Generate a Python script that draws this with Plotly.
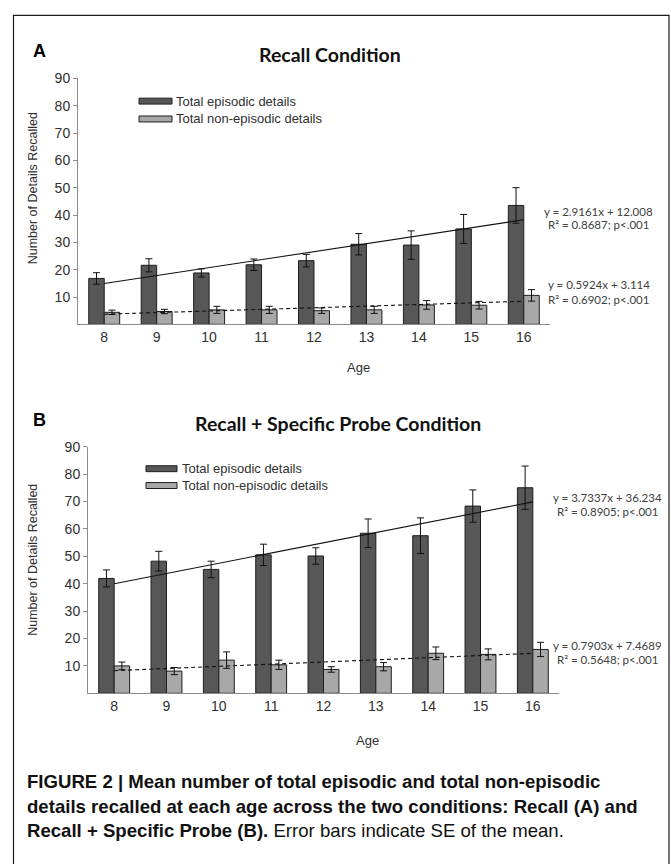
import plotly.graph_objects as go

W, H = 671, 864

ages = ["8", "9", "10", "11", "12", "13", "14", "15", "16"]

# Panel A: Recall Condition
a_epi = [16.8, 21.6, 18.8, 21.8, 23.3, 29.3, 29.0, 34.9, 43.5]
a_epi_se = [2.1, 2.4, 1.5, 2.1, 2.3, 3.9, 5.2, 5.3, 6.5]
a_non = [4.4, 4.7, 5.3, 5.3, 5.0, 5.3, 7.1, 7.0, 10.6]
a_non_se = [0.8, 0.8, 1.3, 1.3, 1.0, 1.3, 1.6, 1.4, 2.1]

# Panel B: Recall + Specific Probe Condition
b_epi = [41.9, 48.2, 45.2, 50.5, 50.1, 58.4, 57.5, 68.3, 75.0]
b_epi_se = [3.1, 3.6, 3.0, 3.9, 3.0, 5.2, 6.5, 5.9, 7.9]
b_non = [10.0, 8.1, 12.1, 10.4, 8.7, 9.7, 14.6, 14.2, 16.0]
b_non_se = [1.4, 1.3, 3.0, 1.7, 1.0, 1.5, 2.3, 2.0, 2.6]

# Linear trend coefficients (slope, intercept) as reported
a_epi_fit = [2.9161, 12.008]
a_non_fit = [0.5924, 3.114]
b_epi_fit = [3.7337, 36.234]
b_non_fit = [0.7903, 7.4689]

a_eq = ["y = 2.9161x + 12.008", "R² = 0.8687; p<.001",
        "y = 0.5924x + 3.114", "R² = 0.6902; p<.001"]
b_eq = ["y = 3.7337x + 36.234", "R² = 0.8905; p<.001",
        "y = 0.7903x + 7.4689", "R² = 0.5648; p<.001"]

series_names = ["Total episodic details", "Total non-episodic details"]
titles = ["Recall Condition", "Recall + Specific Probe Condition"]
y_ticks = [10, 20, 30, 40, 50, 60, 70, 80, 90]

caption_lines = [
    "<b>FIGURE 2 | Mean number of total episodic and total non-episodic</b>",
    "<b>details recalled at each age across the two conditions: Recall (A) and</b>",
    "<b>Recall + Specific Probe (B).</b> Error bars indicate SE of the mean.",
]

DARK = "#575757"
LIGHT = "#a8a8a8"
EDGE = "#1e1e1e"


def X(px):
    return px / W


def Y(py):
    return 1 - py / H


fig = go.Figure()


def add_panel(xa, ya, epi, epi_se, non, non_se, f1, f2):
    for vals, se, col in ((epi, epi_se, DARK), (non, non_se, LIGHT)):
        fig.add_trace(go.Bar(
            x=ages, y=vals, xaxis=xa, yaxis=ya,
            marker=dict(color=col, line=dict(color=EDGE, width=1)),
            error_y=dict(type="data", array=se, color="#111111",
                         thickness=1, width=3.5),
            showlegend=False,
        ))
    idx = list(range(1, len(ages) + 1))
    for fit, dash in ((f1, "solid"), (f2, "4px,3px")):
        fig.add_trace(go.Scatter(
            x=ages, y=[fit[0] * i + fit[1] for i in idx],
            xaxis=xa, yaxis=ya, mode="lines",
            line=dict(color="#111111", width=1.1, dash=dash),
            showlegend=False, hoverinfo="skip",
        ))


add_panel("x", "y", a_epi, a_epi_se, a_non, a_non_se, a_epi_fit, a_non_fit)
add_panel("x2", "y2", b_epi, b_epi_se, b_non, b_non_se, b_epi_fit, b_non_fit)

arial = "Liberation Sans, Arial, sans-serif"
calib = "Lato, Carlito, sans-serif"

tickfont = dict(family=arial, size=14, color="#303030")

xcommon = dict(type="category", showline=True, linecolor="#8c8c8c", linewidth=1,
               ticks="", showgrid=False, zeroline=False, tickfont=tickfont,
               fixedrange=True)
ycommon = dict(range=[0, 90], tickvals=y_ticks, showline=True, linecolor="#8c8c8c",
               linewidth=1, ticks="outside", ticklen=4, tickcolor="#8c8c8c",
               showgrid=False, zeroline=False, tickfont=tickfont, fixedrange=True)

fig.update_layout(
    width=W, height=H,
    margin=dict(l=0, r=0, t=0, b=0),
    paper_bgcolor="white", plot_bgcolor="white",
    barmode="group", bargap=0.41, bargroupgap=0,
    showlegend=False,
    xaxis=dict(domain=[X(78), X(550)], anchor="y", **xcommon),
    yaxis=dict(domain=[Y(319.3), Y(71)], anchor="x", **ycommon),
    xaxis2=dict(domain=[X(88), X(559)], anchor="y2", **xcommon),
    yaxis2=dict(domain=[Y(691.7), Y(442.7)], anchor="x2", **ycommon),
)

shapes = []
annotations = []


def note(text, x, y, size, family, color="#303030", xanchor="center", angle=0):
    annotations.append(dict(text=text, xref="paper", yref="paper",
                            x=X(x), y=Y(y), xanchor=xanchor, yanchor="middle",
                            textangle=angle, showarrow=False,
                            font=dict(family=family, size=size, color=color)))


# Outer frame
shapes.append(dict(type="rect", xref="paper", yref="paper",
                   x0=X(13.5), x1=X(669), y0=Y(7.5), y1=Y(880),
                   line=dict(color="#1a1a1a", width=1.2), fillcolor="rgba(0,0,0,0)"))

panels = [
    dict(letter="A", letter_y=43, title_x=330, title_y=47,
         leg_x0=139, leg_x1=172, leg_tx=174, leg_y=[94, 112],
         ylab_y=182, age_x=358, age_y=363, eq=a_eq,
         eq_pos=[(598.5, 205), (598.5, 219), (598.5, 279), (598.5, 294)]),
    dict(letter="B", letter_y=416, title_x=338, title_y=419,
         leg_x0=146, leg_x1=177, leg_tx=180, leg_y=[465, 482],
         ylab_y=557, age_x=367, age_y=739, eq=b_eq,
         eq_pos=[(607.5, 494), (607, 508.3), (607, 643.3), (607, 657.7)]),
]

for k, p in enumerate(panels):
    note("<b>%s</b>" % p["letter"], 39, p["letter_y"], 18, arial, "black")
    note("<b>%s</b>" % titles[k], p["title_x"], p["title_y"], 19.5, calib, "#111111")
    for j, name in enumerate(series_names):
        yc = p["leg_y"][j]
        shapes.append(dict(type="rect", xref="paper", yref="paper",
                           x0=X(p["leg_x0"]), x1=X(p["leg_x1"]),
                           y0=Y(yc + 3), y1=Y(yc - 3),
                           fillcolor=DARK if j == 0 else LIGHT,
                           line=dict(color=EDGE, width=1)))
        note(name, p["leg_tx"], yc, 13, arial, xanchor="left")
    note("Number of Details Recalled", 33, p["ylab_y"], 12.5, arial, angle=-90)
    note("Age", p["age_x"], p["age_y"], 13, arial)
    for txt, (ex, ey) in zip(p["eq"], p["eq_pos"]):
        note(txt, ex, ey, 11.5, calib, "#404040")

for i, line in enumerate(caption_lines):
    note(line, 25, 781 + 24.5 * i, 18.6, arial, "#111111", xanchor="left")

fig.update_layout(shapes=shapes, annotations=annotations)

fig.write_html(
    "out.html",
    config={"displayModeBar": False},
    post_script="document.body.style.margin='0';document.body.style.padding='0';",
)
